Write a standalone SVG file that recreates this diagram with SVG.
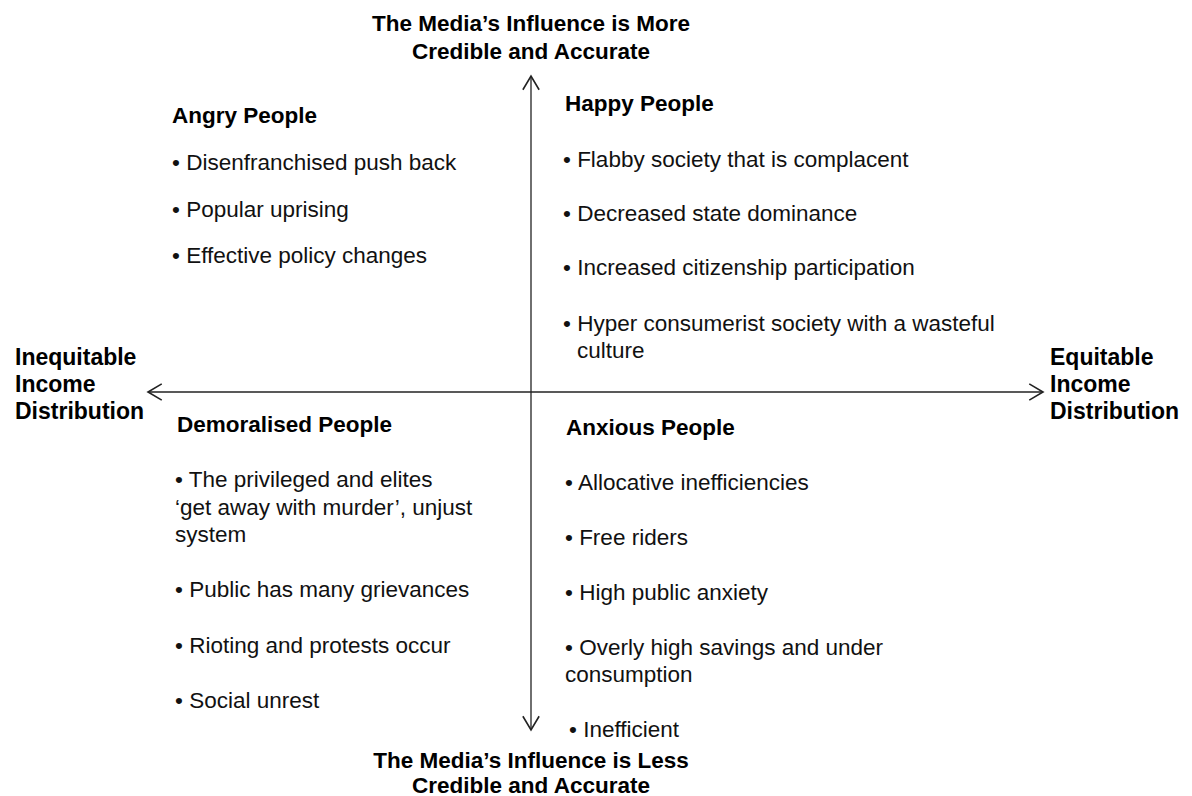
<svg xmlns="http://www.w3.org/2000/svg" width="1192" height="796" viewBox="0 0 1192 796">
  <defs>
    <style>
      .t { font-family: "Liberation Sans", Arial, sans-serif; font-size: 22.5px; fill: #111; }
      .b { font-family: "Liberation Sans", Arial, sans-serif; font-size: 22.5px; font-weight: bold; fill: #000; }
      .ax { font-size: 23px; }
      .c { text-anchor: middle; }
      .axis { stroke: #222; stroke-width: 1.3; fill: none; }
    </style>
    <marker id="arr" markerUnits="userSpaceOnUse" markerWidth="20" markerHeight="20" viewBox="-12 -8 14 16" refX="0" refY="0" orient="auto">
      <path d="M-11,-6.5 L0,0 L-11,6.5" fill="none" stroke="#222" stroke-width="1.3"/>
    </marker>
  </defs>
  <rect width="1192" height="796" fill="#ffffff"/>

  <g id="connectors">
    <line class="axis" x1="531" y1="392" x2="531" y2="76" marker-end="url(#arr)"/>
    <line class="axis" x1="531" y1="392" x2="531" y2="730" marker-end="url(#arr)"/>
    <line class="axis" x1="531" y1="392" x2="148" y2="392" marker-end="url(#arr)"/>
    <line class="axis" x1="531" y1="392" x2="1043" y2="392" marker-end="url(#arr)"/>
  </g>

  <g id="axis-top">
    <text class="b c" x="531" y="31">The Media’s Influence is More</text>
    <text class="b c" x="531" y="59">Credible and Accurate</text>
  </g>
  <g id="axis-bottom">
    <text class="b c" x="531" y="768">The Media’s Influence is Less</text>
    <text class="b c" x="531" y="793">Credible and Accurate</text>
  </g>
  <g id="axis-left">
    <text class="b ax" x="15" y="365">Inequitable</text>
    <text class="b ax" x="15" y="392">Income</text>
    <text class="b ax" x="15" y="419">Distribution</text>
  </g>
  <g id="axis-right">
    <text class="b ax" x="1050" y="365">Equitable</text>
    <text class="b ax" x="1050" y="392">Income</text>
    <text class="b ax" x="1050" y="419">Distribution</text>
  </g>

  <g id="angry">
    <text class="b" x="172" y="123">Angry People</text>
    <text class="t" x="172" y="170">• Disenfranchised push back</text>
    <text class="t" x="172" y="217">• Popular uprising</text>
    <text class="t" x="172" y="263">• Effective policy changes</text>
  </g>

  <g id="happy">
    <text class="b" x="565" y="111">Happy People</text>
    <text class="t" x="563" y="167">• Flabby society that is complacent</text>
    <text class="t" x="563" y="221">• Decreased state dominance</text>
    <text class="t" x="563" y="275">• Increased citizenship participation</text>
    <text class="t" x="563" y="331">• Hyper consumerist society with a wasteful</text>
    <text class="t" x="577" y="358">culture</text>
  </g>

  <g id="demoralised">
    <text class="b" x="177" y="432">Demoralised People</text>
    <text class="t" x="175" y="487">• The privileged and elites</text>
    <text class="t" x="175" y="515">‘get away with murder’, unjust</text>
    <text class="t" x="175" y="542">system</text>
    <text class="t" x="175" y="597">• Public has many grievances</text>
    <text class="t" x="175" y="653">• Rioting and protests occur</text>
    <text class="t" x="175" y="708">• Social unrest</text>
  </g>

  <g id="anxious">
    <text class="b" x="566" y="435">Anxious People</text>
    <text class="t" x="565" y="490">• Allocative inefficiencies</text>
    <text class="t" x="565" y="545">• Free riders</text>
    <text class="t" x="565" y="600">• High public anxiety</text>
    <text class="t" x="565" y="655">• Overly high savings and under</text>
    <text class="t" x="565" y="682">consumption</text>
    <text class="t" x="569" y="737">• Inefficient</text>
  </g>
</svg>
